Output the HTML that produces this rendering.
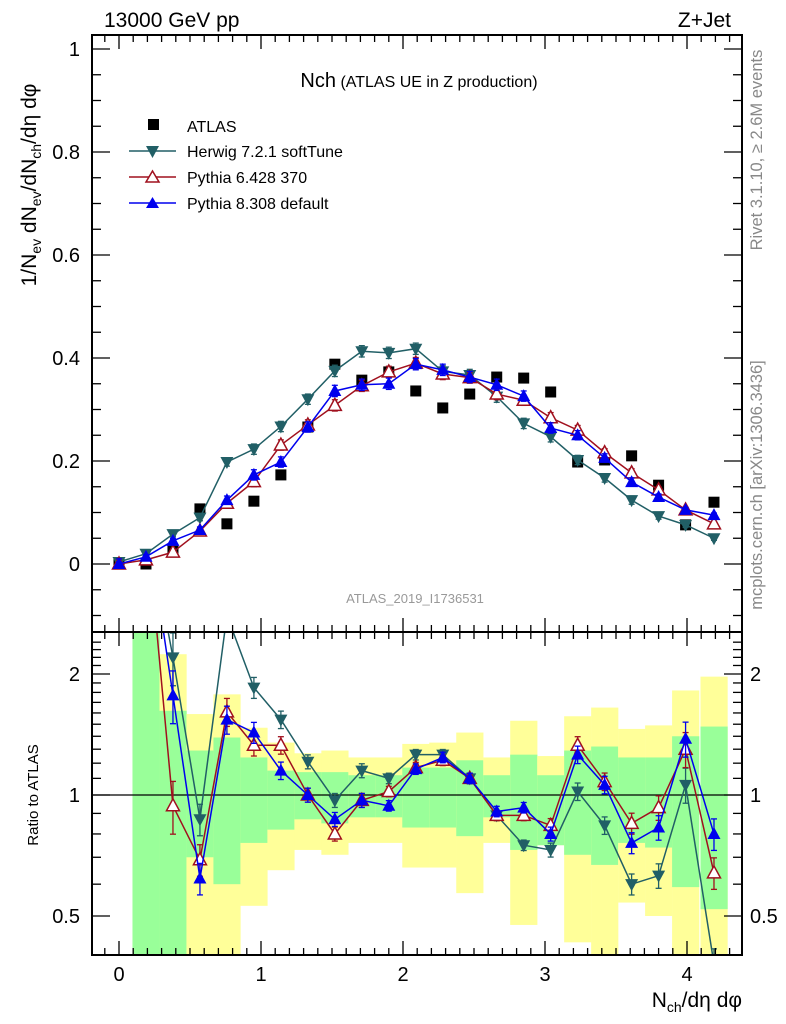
<!DOCTYPE html>
<html><head><meta charset="utf-8"><style>
body{margin:0;background:#fff}
svg{display:block;font-family:"Liberation Sans",sans-serif}
</style></head><body>
<svg id="c" width="786" height="1024" viewBox="0 0 786 1024"></svg>
<script>
const xs=[0,0.19,0.38,0.57,0.76,0.95,1.14,1.33,1.52,1.71,1.9,2.09,2.28,2.47,2.66,2.85,3.04,3.23,3.42,3.61,3.8,3.99,4.19];
const atlas=[0.002,0.0,0.025,0.107,0.078,0.122,0.173,0.266,0.388,0.357,0.373,0.336,0.303,0.33,0.363,0.361,0.334,0.198,0.202,0.21,0.153,0.076,0.12];
const herwig=[0.004,0.02,0.058,0.09,0.198,0.223,0.267,0.32,0.375,0.413,0.41,0.418,0.374,0.367,0.325,0.273,0.247,0.202,0.167,0.124,0.093,0.076,0.05];
const py6=[0.0,0.008,0.023,0.064,0.118,0.16,0.231,0.27,0.308,0.346,0.373,0.39,0.369,0.362,0.33,0.318,0.284,0.26,0.216,0.177,0.144,0.105,0.078];
const py8=[0.0,0.014,0.045,0.066,0.124,0.173,0.198,0.266,0.336,0.348,0.35,0.388,0.377,0.363,0.348,0.326,0.264,0.25,0.206,0.159,0.13,0.105,0.095];
const rHerwig=[null,5,2.2,0.87,2.8,1.85,1.54,1.21,0.97,1.15,1.1,1.26,1.26,1.1,0.89,0.75,0.73,1.02,0.84,0.6,0.63,1.06,0.38];
const rPy6=[null,5,0.94,0.69,1.61,1.33,1.33,1.0,0.8,0.97,1.02,1.17,1.22,1.1,0.89,0.89,0.84,1.33,1.08,0.85,0.93,1.3,0.64];
const rPy8=[null,5,1.77,0.62,1.54,1.43,1.15,1.0,0.87,0.97,0.94,1.16,1.24,1.1,0.91,0.93,0.8,1.26,1.06,0.76,0.83,1.38,0.8];
const yelHi=[null,3,2.24,1.59,1.78,1.47,1.35,1.27,1.29,1.24,1.24,1.34,1.35,1.43,1.24,1.53,1.25,1.57,1.65,1.46,1.49,1.82,1.97];
const grnHi=[null,3,1.62,1.29,1.39,1.24,1.15,1.14,1.14,1.12,1.12,1.17,1.17,1.22,1.12,1.26,1.12,1.29,1.32,1.24,1.24,1.40,1.48];
const grnLo=[null,0.3,0.3,0.70,0.60,0.76,0.82,0.87,0.85,0.88,0.88,0.83,0.83,0.79,0.88,0.73,0.75,0.71,0.67,0.76,0.74,0.59,0.52];
const yelLo=[null,0.3,0.3,0.3,0.3,0.53,0.65,0.73,0.71,0.76,0.76,0.66,0.66,0.57,0.76,0.475,0.75,0.43,0.3,0.54,0.50,0.3,0.3];
const errMain=[0.004,0.004,0.005,0.006,0.008,0.01,0.01,0.01,0.011,0.011,0.011,0.011,0.011,0.011,0.011,0.01,0.01,0.009,0.008,0.008,0.006,0.005,0.004];
const errRatio=[0,0.3,0.15,0.09,0.08,0.06,0.05,0.04,0.04,0.04,0.03,0.03,0.03,0.03,0.03,0.03,0.04,0.05,0.05,0.06,0.07,0.1,0.09];
const yMainTicks=["0","0.2","0.4","0.6","0.8","1"];

const NS="http://www.w3.org/2000/svg";
const svg=document.getElementById('c');
const L=92,R=742,T=35,MB=632,B=955;
const X=v=>119+v*142;
const Y=v=>564-v*515;
const YR=r=>795-Math.log2(r)*121;
function el(t,a,p){const e=document.createElementNS(NS,t);for(const k in a)e.setAttribute(k,a[k]);(p||svg).appendChild(e);return e;}
function txt(s,x,y,a,p){const e=el('text',Object.assign({x:x,y:y},a),p);e.textContent=s;return e;}

const defs=el('defs',{});
const c1=el('clipPath',{id:'cm'},defs);el('rect',{x:L,y:T,width:R-L,height:MB-T},c1);
const c2=el('clipPath',{id:'cr'},defs);el('rect',{x:L,y:MB,width:R-L,height:B-MB},c2);

const gR=el('g',{'clip-path':'url(#cr)'});


for(let i=0;i<xs.length;i++){
  if(yelHi[i]==null)continue;
  const x0=X(xs[i])-13.5;
  const y1=el('rect',{x:x0,y:YR(yelHi[i]),width:27.2,height:YR(yelLo[i])-YR(yelHi[i]),fill:'#ffff99'},gR);
  
  
  const g1=el('rect',{x:x0,y:YR(grnHi[i]),width:27.2,height:YR(grnLo[i])-YR(grnHi[i]),fill:'#99ff99'},gR);
  
  
}
el('line',{x1:L,x2:R,y1:YR(1),y2:YR(1),stroke:'#000','stroke-width':1.3},gR);

function marker(p,kind,x,y,col){
  if(kind==='sq')return el('rect',{x:x-5.5,y:y-5.5,width:11,height:11,fill:'#000'},p);
  if(kind==='down')return el('polygon',{points:`${x-6.5},${y-5} ${x+6.5},${y-5} ${x},${y+7}`,fill:col},p);
  if(kind==='up')return el('polygon',{points:`${x-6.5},${y+5} ${x+6.5},${y+5} ${x},${y-7}`,fill:col},p);
  return el('polygon',{points:`${x-6.5},${y+5} ${x+6.5},${y+5} ${x},${y-7}`,fill:'#fff',stroke:col,'stroke-width':1.5},p);
}
function series(clip,vals,err,fy,col,kind,name,logr){
  const g=el('g',{'clip-path':clip});
  
  
  let pts=[];
  for(let i=0;i<xs.length;i++){if(vals[i]==null)continue;pts.push(X(xs[i])+','+fy(vals[i]));}
  if(col!=='#000')el('polyline',{points:pts.join(' '),fill:'none',stroke:col,'stroke-width':1.5},g);
  for(let i=0;i<xs.length;i++){
    if(vals[i]==null)continue;
    const x=X(xs[i]),y=fy(vals[i]);
    const e=logr?vals[i]*err[i]:err[i];
    const ya=fy(vals[i]+e),yb=fy(Math.max(vals[i]-e,0.01));
    if(col!=='#000'){
      el('line',{x1:x,x2:x,y1:ya,y2:yb,stroke:col,'stroke-width':1.3},g);
      el('line',{x1:x-3,x2:x+3,y1:ya,y2:ya,stroke:col,'stroke-width':1.3},g);
      el('line',{x1:x-3,x2:x+3,y1:yb,y2:yb,stroke:col,'stroke-width':1.3},g);
    }
    const m=marker(g,kind,x,y,col);
    
    
  }
}
const cH='#215f66',c6='#a0101e',c8='#0000ee';
series('url(#cm)',atlas,errMain,Y,'#000','sq','atlas-data',false);
series('url(#cm)',herwig,errMain,Y,cH,'down','herwig-series',false);
series('url(#cm)',py6,errMain,Y,c6,'open','pythia6-series',false);
series('url(#cm)',py8,errMain,Y,c8,'up','pythia8-series',false);
series('url(#cr)',rHerwig,errRatio,YR,cH,'down','herwig-ratio',true);
series('url(#cr)',rPy6,errRatio,YR,c6,'open','pythia6-ratio',true);
series('url(#cr)',rPy8,errRatio,YR,c8,'up','pythia8-ratio',true);

const fr=el('g',{fill:'none',stroke:'#000','stroke-width':2});


el('rect',{x:L,y:T,width:R-L,height:MB-T},fr);
el('rect',{x:L,y:MB,width:R-L,height:B-MB},fr);
const tk=el('g',{stroke:'#000','stroke-width':1.3});
for(let k=-2;k<=43;k++){
  const v=k/10,x=X(v);if(x<=L||x>=R)continue;
  const len=(k%10===0)?14:7;
  for(const yy of [T,MB,B]){
    el('line',{x1:x,x2:x,y1:yy,y2:yy+(yy===T||yy===MB?len:-len)},tk);
    if(yy===MB)el('line',{x1:x,x2:x,y1:MB,y2:MB-len},tk);
  }
}
for(let k=-2;k<=20;k++){
  const v=k*0.05,y=Y(v);if(y<=T||y>=MB)continue;
  const len=(k%4===0)?18:9;
  el('line',{x1:L,x2:L+len,y1:y,y2:y},tk);el('line',{x1:R,x2:R-len,y1:y,y2:y},tk);
}
yMainTicks.forEach((s,i)=>{const t=txt(s,80,Y(i*0.2)+7,{'font-size':20,'text-anchor':'end'});
});
for(let r=0.4;r<=2.5;r+=0.1){
  const y=YR(r);if(y<=MB||y>=B)continue;
  const maj=Math.abs(r-1)<0.01||Math.abs(r-2)<0.01||Math.abs(r-0.5)<0.01;
  const len=maj?18:9;
  el('line',{x1:L,x2:L+len,y1:y,y2:y},tk);el('line',{x1:R,x2:R-len,y1:y,y2:y},tk);
}
[["2",2],["1",1],["0.5",0.5]].forEach(a=>{
  txt(a[0],80,YR(a[1])+7,{'font-size':20,'text-anchor':'end',});
  txt(a[0],750,YR(a[1])+7,{'font-size':20,});
});
[0,1,2,3,4].forEach(v=>txt(String(v),X(v),981,{'font-size':20,'text-anchor':'middle',}));
</script>
<svg width="786" height="1024" style="position:absolute;left:0;top:0;font-family:'Liberation Sans',sans-serif">
<text x="104" y="27" font-size="21">13000 GeV pp</text>
<text x="731" y="27" font-size="21" text-anchor="end">Z+Jet</text>
<text x="419" y="87" text-anchor="middle"><tspan font-size="20">Nch</tspan><tspan font-size="16"> (ATLAS UE in Z production)</tspan></text>
<g>
<rect x="148" y="119" width="11" height="11" fill="#000"/>
<text x="187" y="132" font-size="16">ATLAS</text>
<line x1="129" x2="176" y1="151" y2="151" stroke="#215f66" stroke-width="1.5"/>
<polygon points="146,146 159,146 152.5,158" fill="#215f66"/>
<text x="187" y="157" font-size="16">Herwig 7.2.1 softTune</text>
<line x1="129" x2="176" y1="177" y2="177" stroke="#a0101e" stroke-width="1.5"/>
<polygon points="146,182 159,182 152.5,171" fill="#fff" stroke="#a0101e" stroke-width="1.5"/>
<text x="187" y="183" font-size="16">Pythia 6.428 370</text>
<line x1="129" x2="176" y1="203" y2="203" stroke="#0000ee" stroke-width="1.5"/>
<polygon points="146,208 159,208 152.5,197" fill="#0000ee"/>
<text x="187" y="209" font-size="16">Pythia 8.308 default</text>
</g>
<text x="415" y="603" font-size="13" fill="#999" text-anchor="middle">ATLAS_2019_I1736531</text>
<text transform="translate(757,150) rotate(-90)" font-size="16.5" fill="#888" text-anchor="middle" dominant-baseline="central">Rivet 3.1.10, ≥ 2.6M events</text>
<text transform="translate(757,485) rotate(-90)" font-size="16.5" fill="#888" text-anchor="middle" dominant-baseline="central">mcplots.cern.ch [arXiv:1306.3436]</text>
<text transform="translate(36,185) rotate(-90)" font-size="21" text-anchor="middle">1/N<tspan font-size="14" dy="5">ev</tspan><tspan dy="-5"> dN</tspan><tspan font-size="14" dy="5">ev</tspan><tspan dy="-5">/dN</tspan><tspan font-size="14" dy="5">ch</tspan><tspan dy="-5">/dη dφ</tspan></text>
<text transform="translate(38,795) rotate(-90)" font-size="15" text-anchor="middle">Ratio to ATLAS</text>
<text x="742" y="1007" font-size="21" text-anchor="end">N<tspan font-size="14" dy="5">ch</tspan><tspan dy="-5">/dη dφ</tspan></text>
</svg>
</body></html>
